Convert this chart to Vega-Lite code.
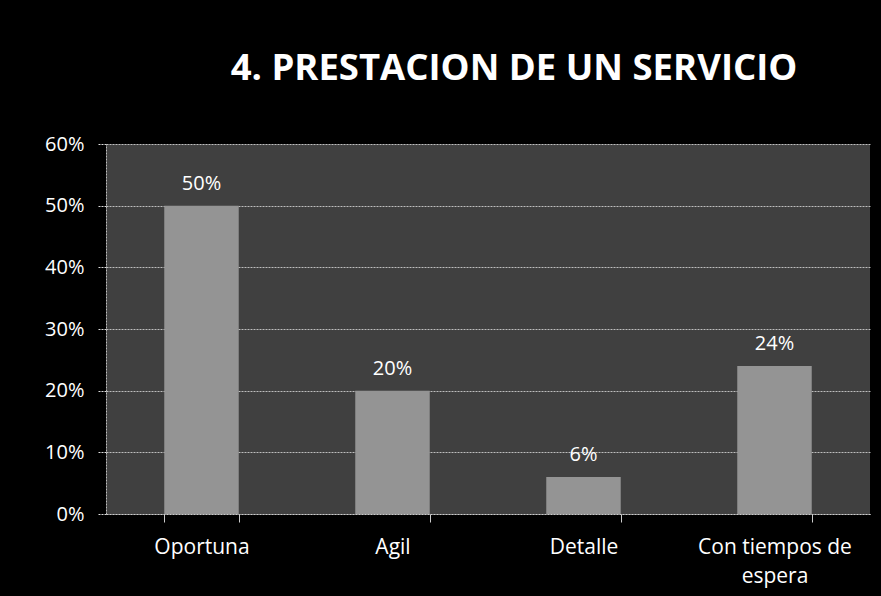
{
  "$schema": "https://vega.github.io/schema/vega-lite/v6.json",
  "autosize": "none",
  "width": 764,
  "height": 370,
  "padding": {"left": 106, "top": 144, "right": 11, "bottom": 82},
  "background": "#000000",
  "title": {
    "text": "4. PRESTACION DE UN SERVICIO",
    "anchor": "middle",
    "dx": 26,
    "offset": 47,
    "font": "Open Sans",
    "fontSize": 36.5,
    "fontWeight": "bold",
    "color": "#ffffff"
  },
  "data": {
    "values": [
      {"categoria": "Oportuna", "valor": 0.50},
      {"categoria": "Agil", "valor": 0.20},
      {"categoria": "Detalle", "valor": 0.06},
      {"categoria": "Con tiempos de espera", "valor": 0.24}
    ]
  },
  "config": {
    "view": {"fill": "#404040", "stroke": null},
    "axis": {"labelFont": "Open Sans", "labelFontSize": 20, "labelColor": "#ffffff"}
  },
  "encoding": {
    "x": {
      "field": "categoria",
      "type": "nominal",
      "sort": null,
      "scale": {"paddingInner": 0.61, "paddingOuter": 0.305},
      "axis": {
        "title": null,
        "labelAngle": 0,
        "bandPosition": 0,
        "tickBand": "extent",
        "tickColor": "#cccccc",
        "tickSize": 8,
        "labelPadding": 14,
        "labelBaseline": "top",
        "labelFontSize": 21,
        "labelLineHeight": 29,
        "labelExpr": "datum.label == 'Con tiempos de espera' ? ['Con tiempos de', 'espera'] : datum.label",
        "domainColor": "#cccccc",
        "domainDash": [2, 1],
        "grid": false
      }
    },
    "y": {
      "field": "valor",
      "type": "quantitative",
      "scale": {"domain": [0, 0.6]},
      "axis": {
        "title": null,
        "format": ".0%",
        "values": [0, 0.1, 0.2, 0.3, 0.4, 0.5, 0.6],
        "labelPadding": 14,
        "ticks": true,
        "tickSize": 8,
        "tickColor": "#dddddd",
        "tickDash": [2, 1],
        "domainColor": "#bbbbbb",
        "domainDash": [2, 1],
        "gridColor": "#dddddd",
        "gridDash": [2, 1],
        "gridOpacity": 0.8
      }
    }
  },
  "layer": [
    {"mark": {"type": "bar", "color": "#949494"}},
    {
      "mark": {"type": "text", "dy": -22, "font": "Open Sans", "fontSize": 20, "color": "#ffffff"},
      "encoding": {"text": {"field": "valor", "type": "quantitative", "format": ".0%"}}
    }
  ]
}
